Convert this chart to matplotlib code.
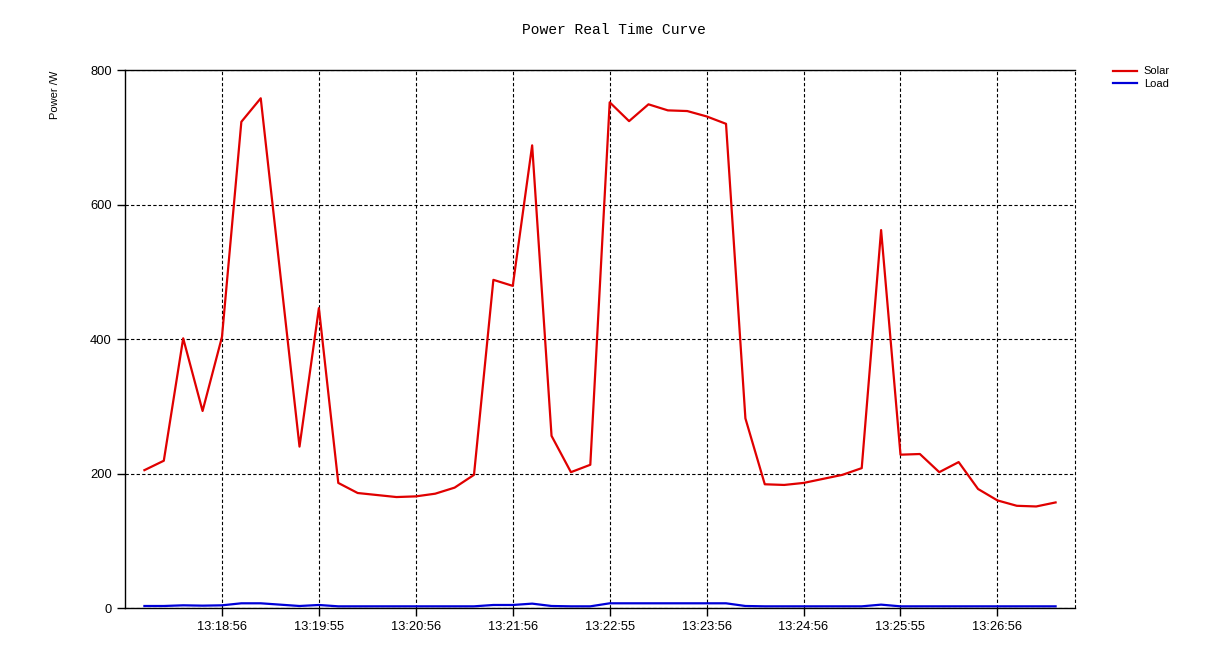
import matplotlib.pyplot as plt

# sample index 1..48, labelled every 5 samples
tick_pos = [5, 10, 15, 20, 25, 30, 35, 40, 45]
tick_labels = ["13:18:56", "13:19:55", "13:20:56", "13:21:56", "13:22:55",
               "13:23:56", "13:24:56", "13:25:55", "13:26:56"]

solar = [205, 219, 401, 293, 403, 723, 758, 499, 240, 446,
         186, 171, 168, 165, 166, 170, 179, 198, 488, 479,
         688, 256, 202, 213, 752, 724, 749, 740, 739, 731,
         720, 282, 184, 183, 186, 192, 198, 208, 562, 228,
         229, 202, 217, 177, 160, 152, 151, 157]

load = [3, 3, 4, 3.5, 4, 7, 7, 5, 3, 4.5,
        2.5, 2.5, 2.5, 2.5, 2.5, 2.5, 2.5, 2.5, 4.5, 4.5,
        6.5, 3, 2.5, 2.5, 7, 7, 7, 7, 7, 7,
        7, 3, 2.5, 2.5, 2.5, 2.5, 2.5, 2.5, 5, 2.5,
        2.5, 2.5, 2.5, 2.5, 2.5, 2.5, 2.5, 2.5]

x = list(range(1, len(solar) + 1))

plt.rcParams['font.family'] = ['Liberation Sans', 'DejaVu Sans']

fig = plt.figure(figsize=(12.27, 6.65), dpi=100)
ax = fig.add_axes([0.1019, 0.0857, 0.7742, 0.809])

ax.plot(x, solar, color='#e00000', linewidth=1.6, label='Solar')
ax.plot(x, load, color='#0000d8', linewidth=1.6, label='Load')

ax.set_xlim(0, 49)
ax.set_ylim(0, 800)
ax.set_xticks(tick_pos)
ax.set_xticklabels(tick_labels, fontsize=9.3)
ax.set_yticks([0, 200, 400, 600, 800])
ax.tick_params(axis='y', labelsize=9.3, length=6, width=1)
ax.tick_params(axis='x', length=6, width=1)

ax.grid(True, color='black', linestyle=(0, (3, 2)), linewidth=0.8)
ax.spines['right'].set_visible(False)
ax.axvline(49, color='black', linestyle=(0, (3, 2)), linewidth=0.8,
           clip_on=False)
for s in ['left', 'bottom', 'top']:
    ax.spines[s].set_linewidth(1)

fig.text(0.5, 0.955, "Power Real Time Curve", ha='center', va='center',
         fontsize=10.5, family='Liberation Mono')
fig.text(0.045, 0.857, "Power /W", rotation=90, ha='center', va='center',
         fontsize=8)

ax.legend(loc='upper left', bbox_to_anchor=(1.035, 1.015), frameon=False,
          fontsize=8, handlelength=2.2, handletextpad=0.6, labelspacing=0.2,
          borderaxespad=0)

fig.savefig("out.png", dpi=100)
